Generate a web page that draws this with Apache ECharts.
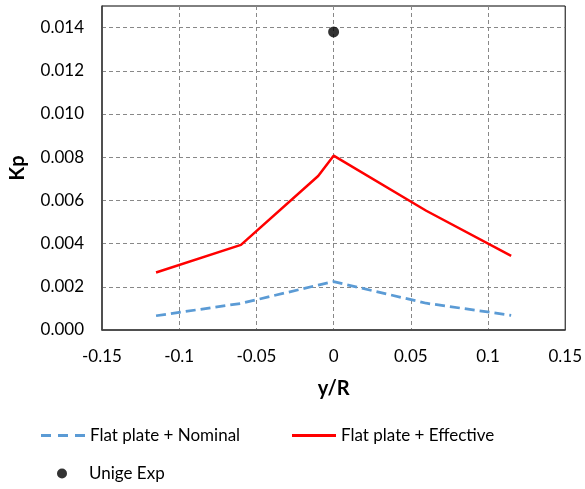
<!DOCTYPE html>
<html>
<head>
<meta charset="utf-8">
<script src="https://cdn.jsdelivr.net/npm/echarts@6/dist/echarts.min.js"></script>
<style>html,body{margin:0;padding:0;background:#fff;}#c{width:585px;height:489px;}</style>
</head>
<body>
<div id="c"></div>
<script>
const xNominal = [-0.115, -0.06, -0.01, 0, 0.06, 0.115];
const yNominal = [0.00066, 0.00123, 0.00208, 0.00224, 0.00124, 0.00068];
const xEffective = [-0.115, -0.06, -0.01, 0, 0.06, 0.115];
const yEffective = [0.00266, 0.00394, 0.00713, 0.00807, 0.00552, 0.00343];
const xExp = [0];
const yExp = [0.0138];
const nameNominal = 'Flat plate + Nominal';
const nameEffective = 'Flat plate + Effective';
const nameExp = 'Unige Exp';

const zip = (xs, ys) => xs.map((x, i) => [x, ys[i]]);
const FONT = 'Lato';
const chart = echarts.init(document.getElementById('c'));
const legendText = { fontFamily: FONT, fontSize: 17, color: '#000' };
const dashIcon = 'path://M0,0h10v3h-10z M17,0h10v3h-10z M34,0h10v3h-10z';
const solidIcon = 'path://M0,0h44v3h-44z';
chart.setOption({
  animation: false,
  textStyle: { fontFamily: FONT },
  grid: { left: 100, right: 19, top: 6, bottom: 159, show: true, borderColor: '#000', borderWidth: 1, containLabel: false },
  legend: [
    { data: [{ name: nameNominal, icon: dashIcon }], left: 36, top: 422, itemWidth: 44, itemHeight: 3, itemStyle: { color: '#5b9bd5' }, textStyle: legendText },
    { data: [{ name: nameEffective, icon: solidIcon }], left: 287, top: 422, itemWidth: 44, itemHeight: 3, itemStyle: { color: '#ff0000' }, textStyle: legendText },
    { data: [{ name: nameExp, icon: 'circle' }], left: 52, top: 460, itemWidth: 44, itemHeight: 10, textStyle: legendText }
  ],
  xAxis: {
    type: 'value', min: -0.15, max: 0.15, interval: 0.05,
    name: 'y/R', nameLocation: 'middle', nameGap: 49,
    nameTextStyle: { fontFamily: FONT, fontSize: 20, fontWeight: 'bold', color: '#000' },
    axisLine: { show: true, onZero: false, lineStyle: { color: '#404040', width: 1.5 } },
    axisTick: { show: false },
    axisLabel: { fontFamily: FONT, fontSize: 17, color: '#000', margin: 18,
      formatter: v => String(Math.round(v * 100) / 100) },
    splitLine: { show: true, showMinLine: false, showMaxLine: false, lineStyle: { color: '#888', type: [4, 3], width: 1 } }
  },
  yAxis: {
    type: 'value', min: 0, max: 0.015, interval: 0.002,
    name: 'Kp', nameLocation: 'middle', nameGap: 74,
    nameTextStyle: { fontFamily: FONT, fontSize: 20, fontWeight: 'bold', color: '#000' },
    axisLine: { show: true, onZero: false, lineStyle: { color: '#404040', width: 1.5 } },
    axisTick: { show: false },
    axisLabel: { fontFamily: FONT, fontSize: 17, color: '#000', margin: 18, showMaxLabel: false,
      formatter: v => (v > 0.0145 ? '' : v.toFixed(3)) },
    splitLine: { show: true, showMinLine: false, showMaxLine: false, lineStyle: { color: '#888', type: [4, 3], width: 1 } }
  },
  series: [
    { name: nameNominal, type: 'line', data: zip(xNominal, yNominal), symbol: 'none',
      lineStyle: { color: '#5b9bd5', width: 2.75, type: [10, 5] }, itemStyle: { color: '#5b9bd5' } },
    { name: nameEffective, type: 'line', data: zip(xEffective, yEffective), symbol: 'none',
      lineStyle: { color: '#ff0000', width: 2.5 }, itemStyle: { color: '#ff0000' } },
    { name: nameExp, type: 'scatter', data: zip(xExp, yExp), symbol: 'circle', symbolSize: 11,
      itemStyle: { color: '#000' } }
  ]
});
</script>
</body>
</html>
